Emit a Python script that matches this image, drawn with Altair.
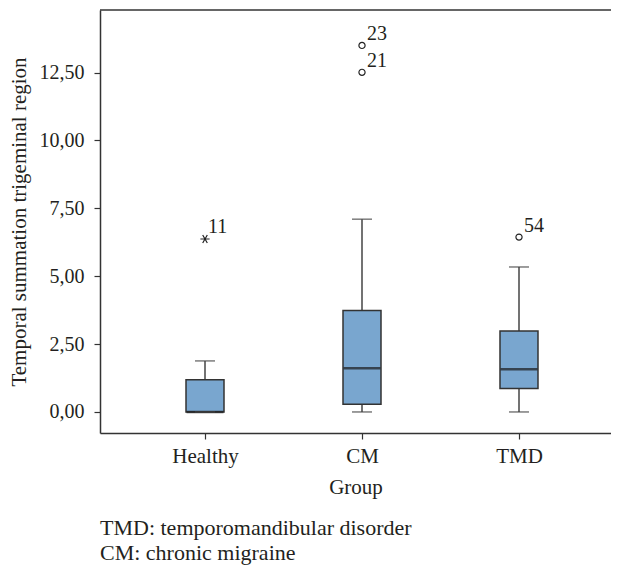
import altair as alt
import pandas as pd

# ---- data ----
groups = ["Healthy", "CM", "TMD"]
q1 = [0.0, 0.28, 0.86]
median = [0.0, 1.61, 1.57]
q3 = [1.19, 3.74, 2.98]
whisker_low = [0.0, 0.0, 0.0]
whisker_high = [1.88, 7.10, 5.34]

out_groups = ["CM", "CM", "TMD"]
out_values = [12.51, 13.50, 6.44]
out_labels = ["21", "23", "54"]

ext_groups = ["Healthy"]
ext_values = [6.37]
ext_labels = ["11"]

y_ticks = [0.0, 2.5, 5.0, 7.5, 10.0, 12.5]
footnotes = ["TMD: temporomandibular disorder", "CM: chronic migraine"]

W, H = 511, 423
FONT = "Liberation Serif"
DARK = "#231f20"

box_df = pd.DataFrame({"group": groups, "q1": q1, "median": median, "q3": q3,
                       "lo": whisker_low, "hi": whisker_high})
out_df = pd.DataFrame({"group": out_groups, "value": out_values, "label": out_labels})
ext_df = pd.DataFrame({"group": ext_groups, "value": ext_values, "label": ext_labels})

xscale = alt.Scale(type="point", domain=groups, padding=0.6274, align=0.533)
yscale = alt.Scale(domain=[-0.775, 14.805], nice=False, zero=False)

x_enc = alt.X("group:N", scale=xscale, sort=groups,
              axis=alt.Axis(title="Group", labelAngle=0, labelPadding=6, titlePadding=10,
                            labelFontSize=21))
y_axis = alt.Axis(title="Temporal summation trigeminal region", values=y_ticks,
                  labelExpr="replace(format(datum.value, '.2f'), '.', ',')",
                  labelPadding=10, titlePadding=10, labelFontSize=20)

base = alt.Chart(box_df)

whisk = base.mark_rule(color="#444444", strokeWidth=1.5).encode(
    x=x_enc, y=alt.Y("lo:Q", scale=yscale, axis=y_axis), y2="hi:Q")
cap_hi = base.mark_tick(color="#444444", size=20, thickness=1.5).encode(
    x=x_enc, y=alt.Y("hi:Q", scale=yscale))
cap_lo = base.mark_tick(color="#444444", size=20, thickness=1.5).encode(
    x=x_enc, y=alt.Y("lo:Q", scale=yscale))
box = base.mark_bar(size=38, fill="#79a6cf", stroke="#333333", strokeWidth=1.5).encode(
    x=x_enc, y=alt.Y("q1:Q", scale=yscale), y2="q3:Q")
med = base.mark_tick(color="#1a1a1a", size=37, thickness=2.5).encode(
    x=x_enc, y=alt.Y("median:Q", scale=yscale))

outs = alt.Chart(out_df).mark_point(shape="circle", filled=False, size=38,
                                    color="#222222", strokeWidth=1.2, opacity=1).encode(
    x=x_enc, y=alt.Y("value:Q", scale=yscale))
out_txt = alt.Chart(out_df).mark_text(align="left", baseline="alphabetic", dx=5, dy=-5,
                                      font=FONT, fontSize=20, color=DARK).encode(
    x=x_enc, y=alt.Y("value:Q", scale=yscale), text="label:N")

star = "M-1,0L1,0M-0.5,-0.866L0.5,0.866M-0.5,0.866L0.5,-0.866"
exts = alt.Chart(ext_df).mark_point(shape=star, filled=False, size=85,
                                    color="#222222", strokeWidth=1.2, opacity=1).encode(
    x=x_enc, y=alt.Y("value:Q", scale=yscale))
ext_txt = alt.Chart(ext_df).mark_text(align="left", baseline="alphabetic", dx=3, dy=-6,
                                      font=FONT, fontSize=20, color=DARK).encode(
    x=x_enc, y=alt.Y("value:Q", scale=yscale), text="label:N")

frame_top = alt.Chart(pd.DataFrame({"k": [0]})).mark_rule(color="#333333", strokeWidth=1.5).encode(
    x=alt.value(0), x2=alt.value(W), y=alt.value(0))

foot_layers = []
for i, line in enumerate(footnotes):
    foot_layers.append(
        alt.Chart(pd.DataFrame({"text": [line]})).mark_text(
            align="left", baseline="alphabetic", font=FONT, fontSize=22, color=DARK
        ).encode(x=alt.value(0), y=alt.value(525 + 25 * i), text="text:N")
    )

chart = alt.layer(whisk, box, med, cap_hi, cap_lo, outs, out_txt, exts, ext_txt, frame_top,
                  *foot_layers).properties(
    width=W, height=H,
    autosize=alt.AutoSizeParams(type="none"),
    padding={"left": 92, "top": 2, "right": 0, "bottom": 133},
).configure_view(stroke=None).configure_axis(
    grid=False, domainColor="#333333", domainWidth=1.5, tickColor="#333333", tickSize=6,
    tickWidth=1.2, labelFont=FONT, labelColor=DARK,
    titleFont=FONT, titleFontSize=21, titleFontWeight="normal", titleColor=DARK,
)

chart.save("out.html", embed_options={"renderer": "svg", "actions": False})
